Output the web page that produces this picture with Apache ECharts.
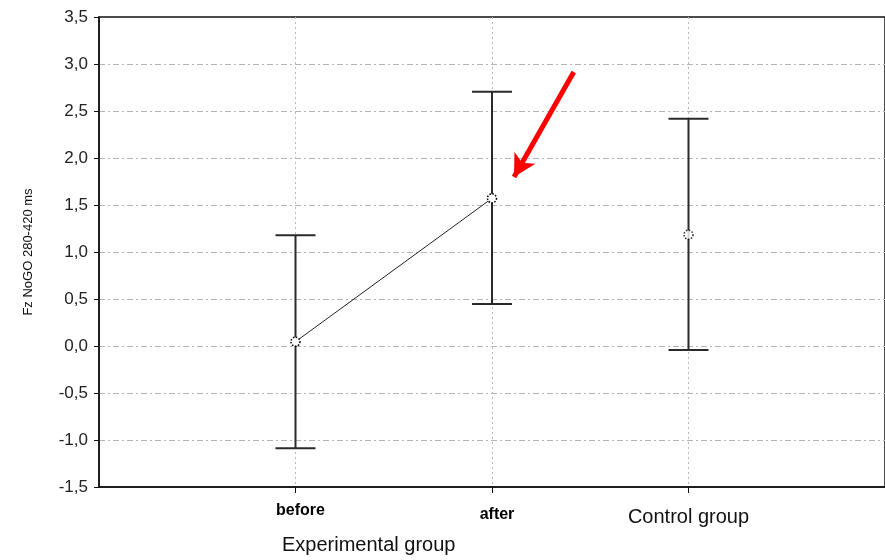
<!DOCTYPE html>
<html>
<head>
<meta charset="utf-8">
<script src="https://cdn.jsdelivr.net/npm/echarts@6/dist/echarts.min.js"></script>
<style>html,body{margin:0;padding:0;background:#fff}#c{width:885px;height:560px}</style>
</head>
<body>
<div id="c"></div>
<script>
const categories = ['before', 'after', 'Control group'];
const xPositions = [1, 2, 3];
const means = [0.046, 1.571, 1.184];
const upper = [1.178, 2.705, 2.418];
const lower = [-1.089, 0.447, -0.043];
const groupLabel = 'Experimental group';
const yTitle = 'Fz NoGO 280-420 ms';
const arrowStart = [2.416, 2.915];
const arrowEnd = [2.112, 1.798];

const FONT = '"Liberation Sans", Arial, sans-serif';
const chart = echarts.init(document.getElementById('c'));

const barData = xPositions.map((x, i) => [x, lower[i], upper[i]]);

const option = {
  animation: false,
  backgroundColor: '#fff',
  grid: { left: 99, top: 17, width: 788, height: 470, show: true, borderColor: '#111', borderWidth: 1.5, backgroundColor: 'transparent' },
  xAxis: {
    type: 'value', min: 0, max: 4, interval: 1,
    axisLine: { show: true, onZero: false, lineStyle: { color: '#111', width: 1.5 } },
    axisTick: { show: true, length: 6, lineStyle: { color: '#111', width: 1 }, customValues: xPositions },
    splitLine: { show: true, showMinLine: true, showMaxLine: true, lineStyle: { color: '#bbb', type: [2, 3], width: 1 } },
    axisLabel: {
      margin: 12,
      customValues: xPositions,
      formatter: function (v) {
        const i = xPositions.indexOf(v);
        if (i < 0) return '';
        return i < 2 ? '{b' + i + '|' + categories[i] + '}' : '{n|' + categories[i] + '}';
      },
      rich: {
        b0: { fontFamily: FONT, fontSize: 16, fontWeight: 'bold', color: '#000', padding: [4, 0, 0, 10] },
        b1: { fontFamily: FONT, fontSize: 16, fontWeight: 'bold', color: '#000', padding: [8, 0, 0, 10] },
        n: { fontFamily: FONT, fontSize: 20, color: '#111', padding: [8, 0, 0, 0] }
      }
    }
  },
  yAxis: {
    type: 'value', min: -1.5, max: 3.5, interval: 0.5,
    name: yTitle, nameLocation: 'middle', nameRotate: 90, nameGap: 64,
    nameTextStyle: { fontFamily: FONT, fontSize: 13, color: '#111' },
    axisLine: { show: true, lineStyle: { color: '#111', width: 1.5 } },
    axisTick: { show: true, length: 5, lineStyle: { color: '#111' } },
    splitLine: { show: true, showMinLine: false, showMaxLine: false, lineStyle: { color: '#b5b5b5', type: [6, 3, 2, 3], width: 1 } },
    axisLabel: {
      margin: 11, fontFamily: FONT, fontSize: 17, color: '#222',
      formatter: v => v.toFixed(1).replace('.', ',')
    }
  },
  graphic: [{
    type: 'text', left: 282, top: 535,
    style: { text: groupLabel, fontFamily: FONT, fontSize: 20, fill: '#111' }
  }],
  series: [
    {
      type: 'custom',
      data: barData,
      z: 3,
      renderItem: function (params, api) {
        const x = api.value(0);
        const lo = api.coord([x, api.value(1)]);
        const hi = api.coord([x, api.value(2)]);
        const hw = 20;
        const st = { stroke: '#2a2a2a', lineWidth: 2, fill: 'none' };
        return {
          type: 'group',
          children: [
            { type: 'line', shape: { x1: lo[0], y1: lo[1], x2: hi[0], y2: hi[1] }, style: st },
            { type: 'line', shape: { x1: lo[0] - hw, y1: lo[1], x2: lo[0] + hw, y2: lo[1] }, style: st },
            { type: 'line', shape: { x1: hi[0] - hw, y1: hi[1], x2: hi[0] + hw, y2: hi[1] }, style: st }
          ]
        };
      }
    },
    {
      type: 'line',
      data: [[xPositions[0], means[0]], [xPositions[1], means[1]]],
      symbol: 'circle', symbolSize: 9, z: 5,
      lineStyle: { color: '#222', width: 1 },
      itemStyle: { color: '#fff', borderColor: '#000', borderWidth: 1.5, borderType: [1.5, 1.5] },
      markLine: {
        silent: true, symbol: ['none', 'arrow'], symbolSize: [18, 22],
        label: { show: false },
        lineStyle: { color: '#ff0000', width: 5, type: 'solid' },
        data: [[{ coord: arrowStart }, { coord: arrowEnd }]]
      }
    },
    {
      type: 'scatter',
      data: [[xPositions[2], means[2]]],
      symbol: 'circle', symbolSize: 9, z: 5,
      itemStyle: { color: '#fff', borderColor: '#000', borderWidth: 1.5, borderType: [1.5, 1.5] }
    }
  ]
};
chart.setOption(option);
</script>
</body>
</html>
